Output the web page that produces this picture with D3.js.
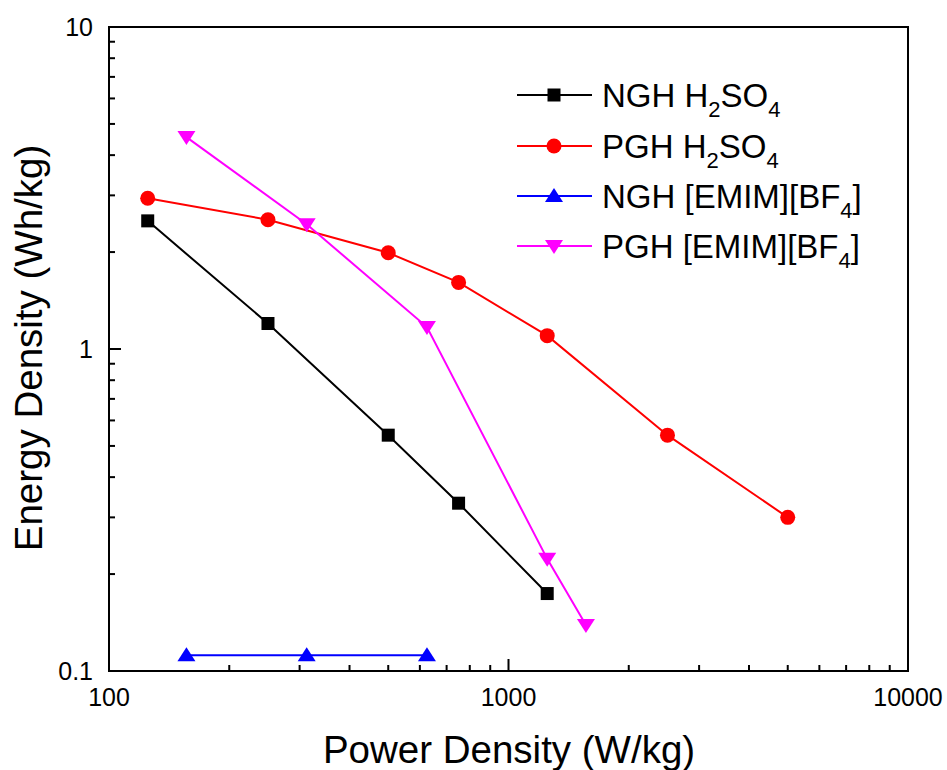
<!DOCTYPE html>
<html>
<head>
<meta charset="utf-8">
<script src="https://cdn.jsdelivr.net/npm/d3@7"></script>
<style>
  html, body { margin: 0; padding: 0; background: #fff; }
  svg { display: block; font-family: "Liberation Sans", Arial, sans-serif; }
</style>
</head>
<body>
<svg id="chart" width="947" height="770"></svg>
<script>
// Ragone data: power density (W/kg) vs energy density (Wh/kg)
const ngh_h2so4_power  = [125, 250, 500, 750, 1250];
const ngh_h2so4_energy = [2.5, 1.2, 0.54, 0.332, 0.174];

const pgh_h2so4_power  = [125, 250, 500, 750, 1250, 2500, 5000];
const pgh_h2so4_energy = [2.94, 2.52, 1.99, 1.61, 1.1, 0.54, 0.3];

const ngh_emim_power  = [156.25, 312.5, 625];
const ngh_emim_energy = [0.112, 0.112, 0.112];

const pgh_emim_power  = [156.25, 312.5, 625, 1250, 1562.5];
const pgh_emim_energy = [4.55, 2.44, 1.17, 0.223, 0.139];

const seriesNames = [
  [["NGH H", ""], ["2", "sub"], ["SO", ""], ["4", "sub"]],
  [["PGH H", ""], ["2", "sub"], ["SO", ""], ["4", "sub"]],
  [["NGH [EMIM][BF", ""], ["4", "sub"], ["]", ""]],
  [["PGH [EMIM][BF", ""], ["4", "sub"], ["]", ""]]
];
const seriesColors = ["#000000", "#ff0000", "#0000ff", "#ff00ff"];
const seriesSymbols = ["square", "circle", "triUp", "triDown"];

const xTicks = [100, 1000, 10000];
const yTicks = [0.1, 1, 10];

const series = [
  { x: ngh_h2so4_power, y: ngh_h2so4_energy },
  { x: pgh_h2so4_power, y: pgh_h2so4_energy },
  { x: ngh_emim_power,  y: ngh_emim_energy },
  { x: pgh_emim_power,  y: pgh_emim_energy }
].map((s, i) => ({
  pts: s.x.map((v, j) => [v, s.y[j]]),
  name: seriesNames[i], color: seriesColors[i], symbol: seriesSymbols[i]
}));

const svg = d3.select("#chart");
const L = 109, R = 908, T = 27, B = 671;

const x = d3.scaleLog().domain([100, 10000]).range([L, R]);
const y = d3.scaleLog().domain([0.1, 10]).range([B, T]);

// Marker shapes
function drawMarker(g, type, cx, cy, color) {
  if (type === "square") {
    g.append("rect").attr("x", cx - 6.5).attr("y", cy - 6.5)
      .attr("width", 13).attr("height", 13).attr("fill", color);
  } else if (type === "circle") {
    g.append("circle").attr("cx", cx).attr("cy", cy).attr("r", 7.5).attr("fill", color);
  } else if (type === "triUp") {
    g.append("path").attr("fill", color)
      .attr("d", `M${cx},${cy - 8} L${cx + 9},${cy + 6} L${cx - 9},${cy + 6} Z`);
  } else {
    g.append("path").attr("fill", color)
      .attr("d", `M${cx},${cy + 8} L${cx + 9},${cy - 6} L${cx - 9},${cy - 6} Z`);
  }
}

// Minor + major ticks (inward) on the bottom and left axes
const xMinor = [];
for (let d = 100; d < 10000; d *= 10) for (let k = 2; k <= 9; k++) xMinor.push(d * k);
const yMinor = [];
for (let d = 0.1; d < 9; d *= 10) for (let k = 2; k <= 9; k++) yMinor.push(+(d * k).toPrecision(3));

const ticks = svg.append("g").attr("stroke", "#000").attr("stroke-width", 2);
xMinor.forEach(v => ticks.append("line").attr("x1", x(v)).attr("x2", x(v)).attr("y1", B).attr("y2", B - 6));
xTicks.forEach(v => ticks.append("line").attr("x1", x(v)).attr("x2", x(v)).attr("y1", B).attr("y2", B - 12));
yMinor.forEach(v => ticks.append("line").attr("y1", y(v)).attr("y2", y(v)).attr("x1", L).attr("x2", L + 6));
yTicks.forEach(v => ticks.append("line").attr("y1", y(v)).attr("y2", y(v)).attr("x1", L).attr("x2", L + 12));

// Frame
svg.append("rect").attr("x", L).attr("y", T).attr("width", R - L).attr("height", B - T)
  .attr("fill", "none").attr("stroke", "#000").attr("stroke-width", 2);

// Tick labels
svg.append("g").selectAll("text").data(xTicks).join("text")
  .attr("x", d => x(d)).attr("y", B + 35).attr("text-anchor", "middle")
  .attr("font-size", 25).text(d => d3.format("d")(d));
svg.append("g").selectAll("text").data(yTicks).join("text")
  .attr("x", L - 16).attr("y", d => y(d) + 9).attr("text-anchor", "end")
  .attr("font-size", 25).text(d => d < 1 ? "0.1" : d3.format("d")(d));

// Axis titles
svg.append("text").attr("x", 509).attr("y", 763).attr("text-anchor", "middle")
  .attr("font-size", 38.5).text("Power Density (W/kg)");
svg.append("text").attr("transform", "translate(42,348) rotate(-90)")
  .attr("text-anchor", "middle").attr("font-size", 38.5).text("Energy Density (Wh/kg)");

// Series lines and markers
const line = d3.line().x(d => x(d[0])).y(d => y(d[1]));
series.forEach(s => {
  const g = svg.append("g");
  g.append("path").datum(s.pts).attr("d", line).attr("fill", "none")
    .attr("stroke", s.color).attr("stroke-width", 2);
  s.pts.forEach(p => drawMarker(g, s.symbol, x(p[0]), y(p[1]), s.color));
});

// Legend
const legY = [95, 146, 196, 246];
series.forEach((s, i) => {
  const g = svg.append("g");
  g.append("line").attr("x1", 517).attr("x2", 592).attr("y1", legY[i]).attr("y2", legY[i])
    .attr("stroke", s.color).attr("stroke-width", 2);
  drawMarker(g, s.symbol, 554, legY[i], s.color);
  const t = g.append("text").attr("x", 602).attr("y", legY[i] + 12).attr("font-size", 33);
  s.name.forEach(([txt, kind]) => {
    const ts = t.append("tspan").text(txt);
    if (kind === "sub") ts.attr("font-size", 22).attr("dy", 10);
    else if (t.selectAll("tspan").size() > 1) ts.attr("dy", -10);
  });
});
</script>
</body>
</html>
